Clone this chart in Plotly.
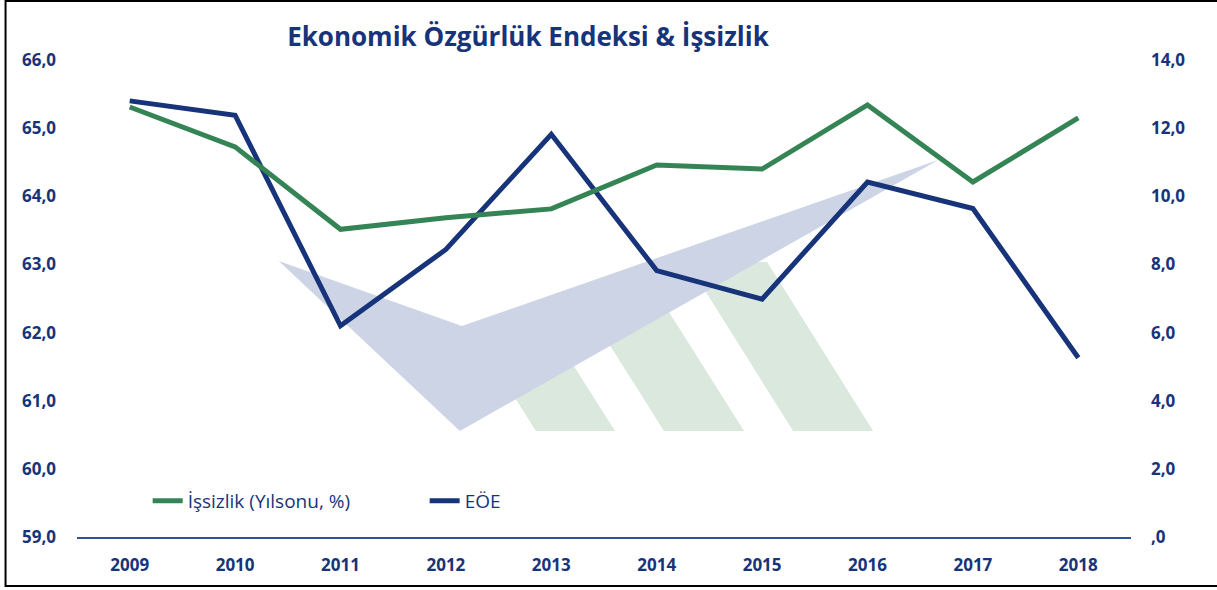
import plotly.graph_objects as go

years = ["2009", "2010", "2011", "2012", "2013", "2014", "2015", "2016", "2017", "2018"]
issizlik = [12.62, 11.45, 9.03, 9.37, 9.63, 10.92, 10.80, 12.68, 10.42, 12.30]
eoe = [65.40, 65.19, 62.10, 63.22, 64.91, 62.91, 62.49, 64.21, 63.82, 61.63]

left_ticks = [59, 60, 61, 62, 63, 64, 65, 66]
left_labels = ["59,0", "60,0", "61,0", "62,0", "63,0", "64,0", "65,0", "66,0"]
right_ticks = [0, 2, 4, 6, 8, 10, 12, 14]
right_labels = [",0", "2,0", "4,0", "6,0", "8,0", "10,0", "12,0", "14,0"]

NAVY = "#17347A"
GREEN = "#358455"
FONT = "Open Sans"

# plot area in pixels
L, R, T, B = 77.4, 1130.6, 60, 537


def px(x, y):
    return (x - L) / (R - L), (B - y) / (B - T)


def path(points):
    pts = [px(x, y) for x, y in points]
    return "M " + " L ".join(f"{a:.5f},{b:.5f}" for a, b in pts) + " Z"


shapes = []
green_wm = "#DAE8DE"
blue_wm = "#CDD4E5"
for pts in [
    [(536, 431), (615, 431), (551, 330), (472, 330)],
    [(664, 431), (744, 431), (655, 290), (575, 290)],
    [(793, 431), (873, 431), (767, 262), (687, 262)],
]:
    shapes.append(dict(type="path", path=path(pts), xref="paper", yref="paper",
                       fillcolor=green_wm, line=dict(width=0), layer="below"))
shapes.append(dict(type="path", path=path([(279, 261), (462, 326), (938, 160), (460, 431)]),
                   xref="paper", yref="paper", fillcolor=blue_wm, line=dict(width=0), layer="below"))

# outer frame
x0, y0 = px(6, 1)
x1, y1 = px(1240, 586)
shapes.append(dict(type="rect", xref="paper", yref="paper", x0=x0, y0=y1, x1=x1, y1=y0,
                   line=dict(color="black", width=2), fillcolor="rgba(0,0,0,0)", layer="above"))

fig = go.Figure()
fig.add_trace(go.Scatter(x=years, y=issizlik, name="İşsizlik (Yılsonu, %)", mode="lines",
                         line=dict(color=GREEN, width=5), yaxis="y2"))
fig.add_trace(go.Scatter(x=years, y=eoe, name="EÖE", mode="lines",
                         line=dict(color=NAVY, width=5), yaxis="y"))

fig.update_layout(
    width=1217, height=590,
    margin=dict(l=L, r=1217 - R, t=T, b=590 - B),
    paper_bgcolor="white", plot_bgcolor="white",
    font=dict(family=FONT, color=NAVY),
    title=dict(text="<b>Ekonomik Özgürlük Endeksi & İşsizlik</b>", x=528 / 1217, xanchor="center",
               y=1 - 37 / 590, yanchor="middle", xref="container", yref="container",
               font=dict(family=FONT, size=26, color=NAVY)),
    xaxis=dict(type="category", range=[-0.5, 9.5], showgrid=False, showline=True,
               linecolor="#2F5597", linewidth=1.5,
               ticks="", tickfont=dict(family=FONT, size=17, color=NAVY, weight="bold"),
               ticklabelstandoff=12, zeroline=False),
    yaxis=dict(range=[59, 66], tickvals=left_ticks, ticktext=left_labels, showgrid=False,
               zeroline=False, showline=False, ticks="",
               tickfont=dict(family=FONT, size=17, color=NAVY, weight="bold"),
               ticklabelstandoff=20),
    yaxis2=dict(range=[0, 14], tickvals=right_ticks, ticktext=right_labels, overlaying="y",
                side="right", showgrid=False, zeroline=False, showline=False, ticks="",
                tickfont=dict(family=FONT, size=17, color=NAVY, weight="bold"),
                ticklabelstandoff=19),
    legend=dict(orientation="h", x=px(148, 0)[0], y=px(0, 501)[1], xanchor="left", yanchor="middle",
                font=dict(family=FONT, size=19, color=NAVY), bgcolor="rgba(0,0,0,0)",
                entrywidth=232, entrywidthmode="pixels", traceorder="normal"),
    shapes=shapes,
)

fig.write_html("out.html", config={"displayModeBar": False},
               post_script="document.body.style.margin='0';document.body.style.padding='0';")
